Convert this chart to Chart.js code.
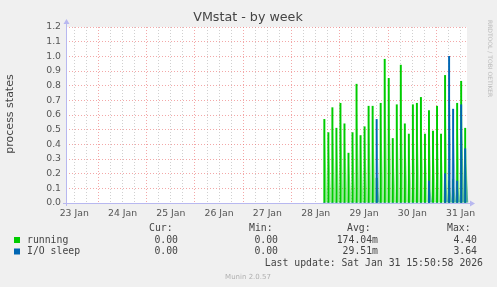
<!DOCTYPE html>
<html>
<head>
<meta charset="utf-8">
<script src="https://cdn.jsdelivr.net/npm/chart.js@4.4.1/dist/chart.umd.min.js"></script>
<style>
  html, body { margin: 0; padding: 0; background: #f0f0f0; }
  canvas { display: block; }
</style>
</head>
<body>
<canvas id="vmstat" width="497" height="287"></canvas>
<script>
// x values are hours counted from 23 Jan 00:00
const xMin = 7.9;
const xMax = 207.2;
const sampleHours = [136.3, 138.3, 140.3, 142.3, 144.3, 146.3, 148.3, 150.3, 152.3, 154.3, 156.3, 158.3,
  160.3, 162.3, 164.3, 166.3, 168.3, 170.3, 172.3, 174.3, 176.3, 178.3, 180.3, 182.3,
  184.3, 186.3, 188.3, 190.3, 192.3, 194.3, 196.3, 198.3, 200.3, 202.3, 204.3, 206.3];

const running = [0.57, 0.48, 0.65, 0.51, 0.68, 0.54, 0.34, 0.48, 0.81, 0.46, 0.52, 0.66,
  0.66, 0.17, 0.68, 0.98, 0.85, 0.44, 0.67, 0.94, 0.54, 0.47, 0.67, 0.68,
  0.72, 0.47, 0.63, 0.49, 0.66, 0.47, 0.87, 0.15, 0.16, 0.68, 0.83, 0.51];

const ioSleep = [0, 0, 0, 0, 0, 0, 0, 0, 0, 0, 0, 0,
  0, 0.57, 0, 0, 0, 0, 0, 0, 0, 0, 0, 0,
  0, 0, 0.15, 0, 0, 0, 0.2, 1.0, 0.64, 0.15, 0.67, 0.37];

const dayLabels = ['23 Jan', '24 Jan', '25 Jan', '26 Jan', '27 Jan', '28 Jan', '29 Jan', '30 Jan', '31 Jan'];
const yTicks = [0, 0.1, 0.2, 0.3, 0.4, 0.5, 0.6, 0.7, 0.8, 0.9, 1.0, 1.1, 1.2];

const seriesNames = ['running', 'I/O sleep'];
const seriesColors = ['#00cc00', '#0066b3'];
const seriesFade = ['rgba(0, 204, 0, 0.4)', 'rgba(0, 102, 179, 0.4)'];
const curValues = ['0.00', '0.00'];
const minValues = ['0.00', '0.00'];
const avgValues = ['174.04m', '29.51m'];
const maxValues = ['4.40', '3.64'];

const lastUpdate = 'Last update: Sat Jan 31 15:50:58 2026';
const chartTitle = 'VMstat - by week';
const yTitle = 'process states';

const majorGrid = 'rgba(235, 110, 110, 0.6)';
const minorGrid = 'rgba(150, 150, 150, 0.45)';
const axisColor = '#b8b8f0';

function points(values) {
  return values.map((v, i) => ({ x: sampleHours[i], y: v }));
}

const munin = {
  id: 'munin',
  beforeDraw(chart) {
    const c = chart.ctx, a = chart.chartArea;
    c.save();
    c.fillStyle = '#f0f0f0';
    c.fillRect(0, 0, chart.width, chart.height);
    c.fillStyle = '#ffffff';
    c.fillRect(a.left, a.top, a.right - a.left, a.bottom - a.top);
    c.restore();
  },
  // soft falling edge after each spike, like the rrd line
  beforeDatasetsDraw(chart) {
    const c = chart.ctx;
    c.save();
    [1, 0].forEach(di => {
      const meta = chart.getDatasetMeta(di);
      const fade = seriesFade[di === 0 ? 1 : 0];
      c.fillStyle = fade;
      meta.data.forEach(bar => {
        if (bar.base - bar.y < 1) return;
        c.beginPath();
        c.moveTo(bar.x, bar.y);
        c.lineTo(bar.x + 3, bar.base);
        c.lineTo(bar.x, bar.base);
        c.closePath();
        c.fill();
      });
    });
    c.restore();
  },
  afterDraw(chart) {
    const c = chart.ctx, a = chart.chartArea;
    c.save();

    // axes with arrows
    c.strokeStyle = axisColor;
    c.fillStyle = axisColor;
    c.lineWidth = 1;
    c.beginPath();
    c.moveTo(a.left + 0.5, a.bottom + 3);
    c.lineTo(a.left + 0.5, a.top - 4);
    c.moveTo(a.left - 3, a.bottom + 0.5);
    c.lineTo(a.right + 4, a.bottom + 0.5);
    c.stroke();
    c.beginPath();
    c.moveTo(a.left - 2.5, a.top - 3);
    c.lineTo(a.left + 3.5, a.top - 3);
    c.lineTo(a.left + 0.5, a.top - 8);
    c.fill();
    c.beginPath();
    c.moveTo(a.right + 3, a.bottom - 2.5);
    c.lineTo(a.right + 3, a.bottom + 3.5);
    c.lineTo(a.right + 8, a.bottom + 0.5);
    c.fill();

    // title
    c.fillStyle = '#444';
    c.font = '12.7px "DejaVu Sans"';
    c.textAlign = 'center';
    c.textBaseline = 'middle';
    c.fillText(chartTitle, 248, 17.5);

    // y axis title
    c.save();
    c.translate(10, 114);
    c.rotate(-Math.PI / 2);
    c.font = '11px "DejaVu Sans"';
    c.fillStyle = '#444';
    c.fillText(yTitle, 0, 0);
    c.restore();

    // side text
    c.save();
    c.translate(490, 20);
    c.rotate(Math.PI / 2);
    c.font = '6px "DejaVu Sans"';
    c.fillStyle = '#bbb';
    c.textAlign = 'left';
    c.fillText('RRDTOOL / TOBI OETIKER', 0, 0);
    c.restore();

    // legend table
    c.font = '9.8px "DejaVu Sans Mono"';
    c.fillStyle = '#444';
    c.textAlign = 'left';
    c.fillText('Cur:', 149, 228.5);
    c.fillText('Min:', 249, 228.5);
    c.fillText('Avg:', 347, 228.5);
    c.fillText('Max:', 447, 228.5);
    seriesNames.forEach((name, i) => {
      const y = 240 + i * 11.5;
      c.fillStyle = seriesColors[i];
      c.fillRect(14, y - 3, 6, 6);
      c.fillStyle = '#444';
      c.textAlign = 'left';
      c.fillText(name, 27, y);
      c.textAlign = 'right';
      c.fillText(curValues[i], 178, y);
      c.fillText(minValues[i], 278, y);
      c.fillText(avgValues[i], 378, y);
      c.fillText(maxValues[i], 477, y);
    });
    c.textAlign = 'right';
    c.fillText(lastUpdate, 483, 263.5);

    c.font = '7px "DejaVu Sans"';
    c.fillStyle = '#b0b0b0';
    c.textAlign = 'center';
    c.fillText('Munin 2.0.57', 248, 277);
    c.restore();
  }
};

const ctx = document.getElementById('vmstat').getContext('2d');
const vmChart = new Chart(ctx, {
  type: 'bar',
  data: {
    datasets: [{
      label: seriesNames[1],
      data: points(ioSleep),
      backgroundColor: seriesColors[1],
      barThickness: 1.3,
      grouped: false,
      order: 1
    }, {
      label: seriesNames[0],
      data: points(running),
      backgroundColor: seriesColors[0],
      barThickness: 1.3,
      grouped: false,
      order: 2
    }]
  },
  options: {
    responsive: false,
    devicePixelRatio: 1,
    animation: false,
    layout: { padding: { left: 0, top: 27, right: 30, bottom: 64 } },
    plugins: {
      legend: { display: false },
      title: { display: false },
      tooltip: { enabled: false }
    },
    scales: {
      x: {
        type: 'linear',
        min: xMin,
        max: xMax,
        offset: false,
        afterFit: s => { s.height = 20; },
        afterBuildTicks: s => {
          const t = [];
          for (let h = 12; h <= xMax; h += 6) t.push({ value: h });
          s.ticks = t;
        },
        grid: {
          offset: false,
          drawTicks: false,
          lineWidth: 1,
          color: c => (c.tick && c.tick.value % 24 === 0) ? majorGrid : minorGrid
        },
        border: { display: false, dash: [1, 2] },
        ticks: {
          autoSkip: false,
          maxRotation: 0,
          padding: 5,
          color: '#555',
          font: { family: 'DejaVu Sans', size: 9.3 },
          callback: v => (v % 24 === 12) ? dayLabels[(v - 12) / 24] : ''
        }
      },
      y: {
        min: 0,
        max: 1.2,
        afterFit: s => { s.width = 66; },
        afterBuildTicks: s => { s.ticks = yTicks.map(v => ({ value: v })); },
        grid: { drawTicks: false, color: majorGrid },
        border: { display: false, dash: [1, 2] },
        ticks: {
          padding: 5,
          color: '#555',
          font: { family: 'DejaVu Sans', size: 9.3 },
          callback: v => v.toFixed(1)
        }
      }
    }
  },
  plugins: [munin]
});
</script>
</body>
</html>
